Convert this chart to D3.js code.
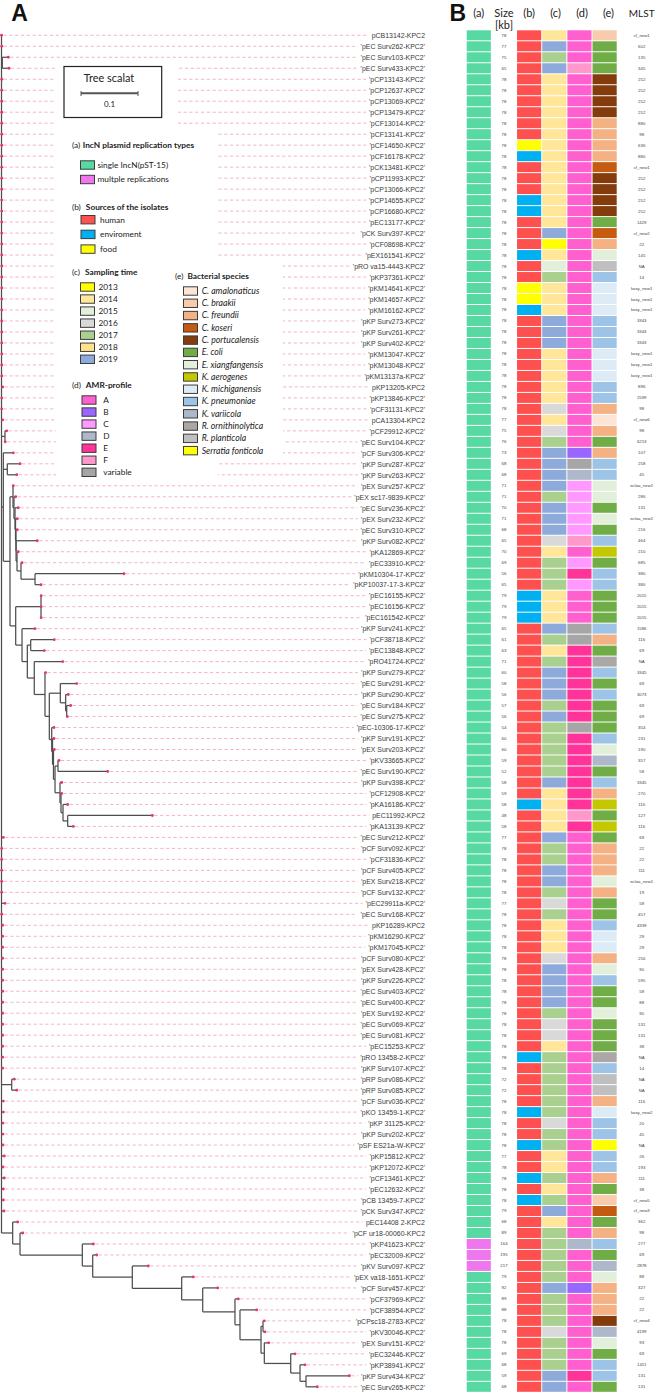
<!DOCTYPE html>
<html><head><meta charset="utf-8">
<script src="https://cdn.jsdelivr.net/npm/d3@7"></script>
<style>body{margin:0;background:#fff} svg{display:block}</style>
</head><body>
<svg id="chart" width="668" height="1393"></svg>
<script>
// ---------------- DATA ----------------
const plasmids = ["pCB13142-KPC2","'pEC Surv262-KPC2'","'pEC Surv103-KPC2'","'pEC Surv433-KPC2'","'pCP13143-KPC2'","'pCP12637-KPC2'","'pCP13069-KPC2'","'pCP13479-KPC2'","'pCF13014-KPC2'","'pCF13141-KPC2'",
"'pCF14650-KPC2'","'pCF16178-KPC2'","'pCK13481-KPC2'","'pCP11993-KPC2'","'pCP13066-KPC2'","'pCP14655-KPC2'","'pCP16680-KPC2'","'pEC13177-KPC2'","'pCK Surv397-KPC2'","'pCF08698-KPC2'",
"'pEX161541-KPC2'","'pRO va15-4443-KPC2'","'pKP37361-KPC2'","'pKM14641-KPC2'","'pKM14657-KPC2'","'pKM16162-KPC2'","'pKP Surv273-KPC2'","'pKP Surv261-KPC2'","'pKP Surv402-KPC2'","'pKM13047-KPC2'",
"'pKM13048-KPC2'","'pKM13137a-KPC2'","pKP13205-KPC2","'pKP13846-KPC2'","'pCF31131-KPC2'","pCA13304-KPC2","'pCF29912-KPC2'","'pEC Surv104-KPC2'","'pCF Surv306-KPC2'","'pKP Surv287-KPC2'",
"'pKP Surv263-KPC2'","'pEX Surv257-KPC2'","'pEX sc17-9839-KPC2'","'pEC Surv236-KPC2'","'pEX Surv232-KPC2'","'pEC Surv310-KPC2'","'pKP Surv082-KPC2'","'pKA12869-KPC2'","'pEC33910-KPC2'","'pKM10304-17-KPC2'",
"'pKP10037-17-3-KPC2'","'pEC16155-KPC2'","'pEC16156-KPC2'","'pEC161542-KPC2'","'pKP Surv241-KPC2'","'pCF38718-KPC2'","'pEC13848-KPC2'","'pRO41724-KPC2'","'pKP Surv279-KPC2'","'pEC Surv291-KPC2'",
"'pKP Surv290-KPC2'","'pEC Surv184-KPC2'","'pEC Surv275-KPC2'","'pEC-10306-17-KPC2'","'pKP Surv191-KPC2'","'pEX Surv203-KPC2'","'pKV33665-KPC2'","'pEC Surv190-KPC2'","'pKP Surv398-KPC2'","'pCF12908-KPC2'",
"'pKA16186-KPC2'","pEC11992-KPC2","'pKA13139-KPC2'","'pEC Surv212-KPC2'","'pCF Surv092-KPC2'","'pCF31836-KPC2'","'pCF Surv405-KPC2'","'pEX Surv218-KPC2'","'pCF Surv132-KPC2'","'pEC29911a-KPC2'",
"'pEC Surv168-KPC2'","pKP16289-KPC2","'pKM16290-KPC2'","'pKM17045-KPC2'","'pCF Surv080-KPC2'","'pEX Surv428-KPC2'","'pKP Surv226-KPC2'","'pEC Surv403-KPC2'","'pEC Surv400-KPC2'","'pEX Surv192-KPC2'",
"'pEC Surv069-KPC2'","'pEC Surv081-KPC2'","'pEC15253-KPC2'","'pRO 13458-2-KPC2'","'pKP Surv107-KPC2'","'pRP Surv086-KPC2'","'pRP Surv085-KPC2'","'pCF Surv036-KPC2'","'pKO 13459-1-KPC2'","'pKP 31125-KPC2'",
"'pKP Surv202-KPC2'","'pSF ES21a-W-KPC2'","'pKP15812-KPC2'","'pKP12072-KPC2'","'pCF13461-KPC2'","'pEC12632-KPC2'","'pCB 13459-7-KPC2'","'pCK Surv347-KPC2'","pEC14408 2-KPC2","'pCF ur18-00060-KPC2",
"'pKP41623-KPC2'","'pEC32009-KPC2'","'pKV Surv097-KPC2'","'pEX va18-1651-KPC2'","'pCF Surv457-KPC2'","'pCF37969-KPC2'","'pCF38954-KPC2'","'pCPsc18-2783-KPC2'","'pKV30046-KPC2'","'pEX Surv151-KPC2'",
"'pEC32446-KPC2'","'pKP38941-KPC2'","'pKP Surv434-KPC2'","'pEC Surv265-KPC2'"];

const sizeKb = [78,77,75,65,78,78,78,78,78,78, 78,78,78,78,78,78,78,78,78,78, 78,78,78,78,78,78,78,78,78,78,
78,78,78,78,78,77,75,76,73,68, 68,71,71,70,71,68,65,70,69,56, 65,79,79,79,65,61,63,71,60,58,
56,57,56,54,60,60,59,52,58,59, 58,48,58,77,78,78,78,78,78,77, 78,78,78,78,78,78,78,78,78,78,
78,78,78,78,78,72,72,78,78,78, 78,78,77,78,78,78,78,79,68,89, 164,195,217,79,92,89,88,78,78,78, 69,68,59,68];

// (a) replication type: S = single IncN(pST-15), M = multiple
const repType = ["S","S","S","S","S","S","S","S","S","S", "S","S","S","S","S","S","S","S","S","S", "S","S","S","S","S","S","S","S","S","S",
"S","S","S","S","S","S","S","S","S","S", "S","S","S","S","S","S","S","S","S","S", "S","S","S","S","S","S","S","S","S","S",
"S","S","S","S","S","S","S","S","S","S", "S","S","S","S","S","S","S","S","S","S", "S","S","S","S","S","S","S","S","S","S",
"S","S","S","S","S","S","S","S","S","S", "S","S","S","S","S","S","S","S","S","S", "M","M","M","S","S","S","S","S","S","S", "S","S","S","S"];

// (b) source: H human, E environment, F food
const source = ["H","H","H","H","H","H","H","H","H","H", "F","E","H","H","H","E","E","H","H","H", "E","H","H","F","F","E","H","H","H","H",
"H","H","H","H","H","H","H","H","H","H", "H","H","H","H","H","H","H","H","H","H", "H","E","E","E","H","H","H","H","H","H",
"H","H","H","H","H","H","H","H","H","H", "E","H","H","H","H","H","H","H","H","H", "H","H","H","H","H","H","H","H","H","H",
"H","H","H","E","H","H","H","H","E","H", "H","E","H","H","E","H","E","H","H","H", "H","H","H","H","H","H","H","H","H","H", "H","H","H","H"];

// (c) sampling year
const year = [2014,2019,2017,2019,2014,2014,2014,2014,2014,2014, 2014,2014,2014,2014,2014,2014,2014,2014,2019,2013,
2014,2015,2017,2014,2014,2014,2019,2019,2019,2014, 2014,2014,2014,2014,2016,2014,2016,2017,2019,2019,
2019,2019,2017,2019,2019,2019,2016,2014,2017,2017, 2017,2014,2014,2014,2019,2017,2014,2017,2019,2019,
2019,2017,2019,2017,2017,2017,2017,2017,2019,2014, 2014,2014,2014,2019,2017,2017,2019,2019,2017,2016,
2017,2014,2014,2014,2016,2019,2019,2019,2019,2017, 2016,2016,2014,2017,2017,2017,2017,2017,2017,2016,
2017,2017,2014,2014,2017,2014,2017,2019,2014,2017, 2017,2017,2017,2017,2019,2017,2017,2017,2016,2017, 2017,2017,2019,2019];

// (d) AMR profile
const amr = ["A","A","A","F","A","A","A","A","A","A", "A","A","A","A","A","A","A","A","A","A", "A","A","A","A","A","A","A","A","A","A",
"A","A","A","A","A","A","A","A","B","V", "D","C","C","C","C","C","F","A","C","E", "C","A","A","A","V","V","E","E","E","E",
"E","E","E","V","E","E","E","E","E","E", "E","F","E","A","A","A","A","A","A","A", "A","A","A","A","A","A","A","A","A","A",
"A","A","A","A","A","A","A","A","A","A", "A","A","A","A","A","A","A","A","A","A", "D","A","A","A","B","A","A","A","A","A", "A","A","E","A"];

// (e) bacterial species
const species = ["CB","EC","EC","EC","CP","CP","CP","CP","CF","CF", "CF","CF","CK","CP","CP","CP","CP","EC","CK","CF",
"EX","RP","KP","KM","KM","KM","KP","KP","KP","KM", "KM","KM","KP","KP","CF","CA","CF","EC","CF","KP",
"KP","EX","EX","EC","EX","EC","KP","KA","EC","KP", "KP","EC","EC","EC","KP","CF","EC","RO","KP","EC",
"KP","EC","EC","EC","KP","EX","KV","EC","KP","CF", "KA","EC","KA","EC","CF","CF","CF","EX","CF","EC",
"EC","KP","KM","KM","CF","EX","KP","EC","EC","EX", "EC","EC","EC","RO","KP","RP","RP","CF","KM","KP",
"KP","SF","KP","KP","CF","EC","CB","CK","EC","CF", "KP","EC","KV","EX","CF","CF","CF","CP","KV","EX", "EC","KP","KP","EC"];

const mlst = ["cf_new1","602","135","345","252","252","252","252","880","98", "636","880","cf_new1","252","252","252","252","1429","cf_new2","22",
"145","NA","14","koxy_new1","koxy_new1","koxy_new1","3343","3343","3343","koxy_new1", "koxy_new1","koxy_new1","896","2599","98","cf_new6","98","6213","107","258",
"45","ecloa_new1","286","131","ecloa_new1","216","464","210","685","380", "380","2015","2015","2015","1586","116","69","NA","3345","69",
"3073","69","69","354","231","190","357","58","3345","270", "116","127","116","69","22","22","111","ecloa_new1","19","58",
"457","4339","29","29","256","90","595","58","88","90", "131","131","38","NA","14","NA","NA","116","koxy_new2","20",
"45","NA","26","193","111","38","cf_new5","cf_new3","362","98", "277","69","2878","88","327","22","22","cf_new4","4199","93", "69","1411","131","131"];

// Phylogeny (Newick; numbers after ':' are divergence from the root, leaf names = row number)
const cladeE1 = "(42:0.0207,(43:0.0249,(44:0.0295,(45:0.0277,(46:0.0277,(47:0.0628,(48:0.0295,(49:0.036,(50:0.2149,51:0.0693):0.0588):0.0342):0.0272):0.0256):0.0254):0.0246):0.0237):0.0219):0.0202";
const cladeN = "(60:0.1319,(61:0.1172,(62:0.1214,63:0.1154):0.1144):0.1126):0.1032";
const cladeQ = "(64:0.0921,(65:0.0921,(66:0.0926,((67:0.1009,68:0.1863):0.0991,(69:0.1056,(70:0.1056,(71:0.1161,(72:0.2646,73:0.126):0.1161):0.1079):0.1044):0.1026):0.0939):0.0912):0.0895):0.0881";
const cladeL = "(59:0.0775,(" + cladeN + "," + cladeQ + "):0.0839):0.0763";
const cladeE2 = "((52:0.0696,53:0.0696,54:0.0696):0.0693,(55:0.0588,((56:0.0926,57:0.0751):0.0512,(58:0.1074," + cladeL + "):0.0575):0.0453):0.036):0.0249";
const cladeB = "(39:0.0207,(40:0.0325,41:0.0267):0.0102,(" + cladeE1 + "," + cladeE2 + "):0.0149):0.0032";
const cladeS = "(109:0.0284,(110:0.0372,(111:0.1611,(112:0.167,(113:0.2575,(114:0.3365,(115:0.3793,(116:0.4154,(117:0.4477,((118:0.4611,119:0.4623):0.4588,(120:0.4688,(121:0.5149,(122:0.5325,(123:0.6102,124:0.554):0.5342):0.5237):0.5074):0.4611):0.4553):0.4184):0.4096):0.353):0.3161):0.2295):0.16):0.1418):0.0325):0.0196";
const treeNewick = "(1:0,2:0.0005,(3:0.0119,4:0.0132):0.0014,5:0.0005,6:0.0005,7:0.0005,8:0.0005,9:0.0005,10:0.0005,11:0.0005,12:0.0005,13:0.0005,14:0.0005,15:0.0005,16:0.0005,17:0.0005,18:0.0005,19:0.0005,20:0.0005,21:0.0005,22:0.0005,23:0.0005,24:0.0005,25:0.0005,26:0.0005,27:0.0005,28:0.0005,29:0.0005,30:0.0005,31:0.0005,32:0.0005,33:0.0021,34:0.0005,35:0.0005,36:0.0021,(37:0.0091,38:0.0065):0.0061,"
 + cladeB + ",74:0.0032,75:0.0004,76:0.0004,77:0.0004,78:0.0004,79:0.0004,80:0.0061,81:0.0004,82:0.002,83:0.002,84:0.002,85:0.002,86:0.002,87:0.002,88:0.002,89:0.002,90:0.002,91:0.002,92:0.002,93:0.002,94:0.002,95:0.002,(96:0.0225,97:0.0267):0.0179,98:0.0032,99:0.0032,100:0.0026,101:0.0026,102:0.0026,103:0.0049,104:0.0026,105:0.0049,106:0.0032,107:0.0032,108:0.0044,"
 + cladeS + ");";

// Legend categories
const repCodes = ["S","M"], repLabels = ["single IncN(pST-15)","multple replications"];
const srcCodes = ["H","E","F"], srcLabels = ["human","enviroment","food"];
const yearCodes = [2013,2014,2015,2016,2017,2018,2019];
const amrCodes = ["A","B","C","D","E","F","V"], amrLabels = ["A","B","C","D","E","F","variable"];
const spCodes = ["CA","CB","CF","CK","CP","EC","EX","KA","KM","KP","KV","RO","RP","SF"];
const spLabels = ["C. amalonaticus","C. braakii","C. freundii","C. koseri","C. portucalensis","E. coli","E. xiangfangensis","K. aerogenes","K. michiganensis","K. pneumoniae","K. variicola","R. ornithinolytica","R. planticola","Serratia fonticola"];
const columnHeads = ["(a)","Size","(b)","(c)","(d)","(e)"];

// ---------------- COLOURS ----------------
const repColor = d3.scaleOrdinal(repCodes, ["#58d8a2","#ee77ee"]);
const srcColor = d3.scaleOrdinal(srcCodes, ["#ff5050","#00b0f0","#ffff00"]);
const yearColor = d3.scaleOrdinal(yearCodes, ["#ffff00","#ffe699","#e2efda","#d9d9d9","#a9d08e","#ffe08c","#8eaadb"]);
const amrColor = d3.scaleOrdinal(amrCodes, ["#ff5fcf","#9966ff","#ff99ff","#adb9ca","#ff3399","#ff99cc","#a6a6a6"]);
const spColor = d3.scaleOrdinal(spCodes, ["#fce4d6","#f8cbad","#f4b183","#c55a11","#843c0c","#70ad47","#e2efda","#c4c800","#ddebf7","#9dc3e6","#adb9ca","#aba7a7","#bfbfbf","#ffff00"]);

// ---------------- LAYOUT ----------------
const svg = d3.select("#chart");
const N = plasmids.length;
const y = d3.scaleBand().domain(d3.range(N)).range([30.3, 1391.8]).paddingInner(0.09);
const rowC = i => y(i) + y.bandwidth() / 2;
const xTree = d3.scaleLinear().domain([0, 0.1]).range([1.5, 58.5]);
const xCol = d3.scaleBand().domain(["a","size","b","c","d","e"]).range([466.7, 616.7]).paddingInner(0.04);
const labelRight = 425, mlstX = 641.7;
const labelFont = "'Liberation Sans', Arial, sans-serif";
const legFont = "Lato, 'Open Sans', sans-serif";

function parseNewick(s) {
  s = s.replace(/\s+/g, "").replace(/;$/, "");
  let i = 0;
  function node() {
    const n = { children: [] };
    if (s[i] === "(") {
      i++;
      n.children.push(node());
      while (s[i] === ",") { i++; n.children.push(node()); }
      i++;
    }
    let name = "";
    while (i < s.length && !":,()".includes(s[i])) name += s[i++];
    n.name = name;
    if (s[i] === ":") {
      i++;
      let num = "";
      while (i < s.length && !",()".includes(s[i])) num += s[i++];
      n.dist = +num;
    } else n.dist = 0;
    return n;
  }
  return node();
}

const root = d3.hierarchy(parseNewick(treeNewick), d => d.children.length ? d.children : null);
root.eachAfter(n => {
  n.px = xTree(n.data.dist);
  if (!n.children) { n.row = +n.data.name - 1; n.py = rowC(n.row); }
  else n.py = (n.children[0].py + n.children[n.children.length - 1].py) / 2;
});
const leaves = root.leaves();
const tipX = new Array(N);
leaves.forEach(l => tipX[l.row] = l.px);

// ---------------- LABELS (measured first) ----------------
const gLab = svg.append("g");
const labels = gLab.selectAll("text").data(plasmids).join("text")
  .attr("transform", (d, i) => `translate(${labelRight},${rowC(i) + 2.8}) scale(0.87,1)`)
  .attr("text-anchor", "end")
  .attr("font-family", labelFont).attr("font-size", 8).attr("fill", "#3a3a3a")
  .text(d => d);
const labStart = [];
labels.each(function(d, i) { labStart[i] = labelRight - this.getComputedTextLength() * 0.87; });

// ---------------- DASHED LEADERS ----------------
const gDash = svg.insert("g", ":first-child");
gDash.selectAll("line").data(d3.range(N)).join("line")
  .attr("x1", i => tipX[i] + 2).attr("x2", i => labStart[i] - 3)
  .attr("y1", i => rowC(i)).attr("y2", i => rowC(i))
  .attr("stroke", "#f6b3c7").attr("stroke-width", 1).attr("stroke-dasharray", "3.2,2.6");

// white background behind the legends
const gCover = svg.append("g");
[[56, 63, 122, 68], [56, 130, 162, 352], [217, 262, 66, 197]].forEach(r =>
  gCover.append("rect").attr("x", r[0]).attr("y", r[1]).attr("width", r[2]).attr("height", r[3]).attr("fill", "#fff"));

// ---------------- TREE ----------------
const gTree = svg.append("g").attr("fill", "none").attr("stroke", "#4e4e4e").attr("stroke-width", 1.25);
root.descendants().filter(n => n.children).forEach(n => {
  gTree.append("line").attr("x1", n.px).attr("x2", n.px)
    .attr("y1", n.children[0].py).attr("y2", n.children[n.children.length - 1].py);
});
root.descendants().filter(n => n.parent).forEach(n => {
  gTree.append("line").attr("x1", n.parent.px).attr("x2", n.px).attr("y1", n.py).attr("y2", n.py);
});
svg.append("g").selectAll("circle").data(leaves).join("circle")
  .attr("cx", d => d.px).attr("cy", d => d.py).attr("r", 1.45).attr("fill", "#e2386a");

// ---------------- HEATMAP ----------------
const gHeat = svg.append("g");
const colDefs = [["a", repType, repColor], ["b", source, srcColor], ["c", year, yearColor], ["d", amr, amrColor], ["e", species, spColor]];
colDefs.forEach(([key, arr, col]) => {
  gHeat.append("g").selectAll("rect").data(arr).join("rect")
    .attr("x", xCol(key)).attr("width", xCol.bandwidth())
    .attr("y", (d, i) => y(i)).attr("height", y.bandwidth())
    .attr("fill", d => col(d));
});
gHeat.append("g").selectAll("text").data(sizeKb).join("text")
  .attr("x", xCol("size") + xCol.bandwidth() / 2).attr("y", (d, i) => rowC(i) + 1.5)
  .attr("text-anchor", "middle").attr("font-family", labelFont).attr("font-size", 4.3).attr("fill", "#444")
  .text(d => d);
gHeat.append("g").selectAll("text").data(mlst).join("text")
  .attr("x", mlstX).attr("y", (d, i) => rowC(i) + 1.5)
  .attr("text-anchor", "middle").attr("font-family", labelFont).attr("font-size", 4.3).attr("fill", "#444")
  .text(d => d);

// headers
const gHead = svg.append("g").attr("font-family", legFont).attr("font-size", 11).attr("fill", "#222");
["a","size","b","c","d","e"].forEach((k, j) => {
  gHead.append("text").attr("x", xCol(k) + xCol.bandwidth() / 2 + (j > 2 ? (j - 2) * 1.3 : 0)).attr("y", 17)
    .attr("text-anchor", "middle").text(columnHeads[j]);
});
gHead.append("text").attr("x", xCol("size") + xCol.bandwidth() / 2).attr("y", 28.5).attr("text-anchor", "middle").text("[kb]");
gHead.append("text").attr("x", mlstX).attr("y", 17).attr("text-anchor", "middle").attr("font-size", 10).text("MLST");
svg.append("text").attr("x", 449.5).attr("y", 20.8).attr("font-family", labelFont).attr("font-weight", "bold")
  .attr("font-size", 23).attr("fill", "#111").text("B");
svg.append("text").attr("x", 11.2).attr("y", 20.8).attr("font-family", labelFont).attr("font-weight", "bold")
  .attr("font-size", 23).attr("fill", "#111").text("A");

// ---------------- LEGENDS ----------------
const gLeg = svg.append("g").attr("font-family", legFont).attr("fill", "#222");
// tree scale
gLeg.append("rect").attr("x", 64).attr("y", 66.5).attr("width", 97.7).attr("height", 51)
  .attr("fill", "#fff").attr("stroke", "#222").attr("stroke-width", 1.2);
gLeg.append("text").attr("x", 109).attr("y", 82).attr("text-anchor", "middle").attr("font-size", 10.9).text("Tree scalat");
const sb0 = 81, sb1 = sb0 + (xTree(0.1) - xTree(0));
gLeg.append("line").attr("x1", sb0).attr("x2", sb1).attr("y1", 93.3).attr("y2", 93.3).attr("stroke", "#555").attr("stroke-width", 2);
[sb0, sb1].forEach(x => gLeg.append("line").attr("x1", x).attr("x2", x).attr("y1", 91).attr("y2", 96).attr("stroke", "#555").attr("stroke-width", 1));
gLeg.append("text").attr("x", 109.5).attr("y", 107).attr("text-anchor", "middle").attr("font-size", 8).text("0.1");

function title(x, yy, pre, txt, gap) {
  const t = gLeg.append("text").attr("x", x).attr("y", yy).attr("font-size", 8.3);
  t.append("tspan").text(pre);
  t.append("tspan").attr("dx", gap).attr("font-weight", "bold").text(txt);
}
function items(codes, labs, col, sx, tx, y0, step, italic) {
  codes.forEach((c, i) => {
    const yy = y0 + i * step;
    gLeg.append("rect").attr("x", sx).attr("y", yy - 4.2).attr("width", 14).attr("height", 8.4)
      .attr("fill", col(c)).attr("stroke", "#3c3c3c").attr("stroke-width", 1);
    gLeg.append("text").attr("x", tx).attr("y", yy + 2.9).attr("font-size", italic ? 8.7 : 8.3)
      .attr("font-style", italic ? "italic" : null).text(labs[i]);
  });
}
title(72, 148, "(a)", "IncN plasmid replication types", 2.5);
items(repCodes, repLabels, repColor, 80.5, 97.5, 165, 14.5, false);
title(72, 209.5, "(b)", "Sources of the isolates", 5);
items(srcCodes, srcLabels, srcColor, 81, 100, 219.7, 14.7, false);
title(72, 274.5, "(c)", "Sampling time", 5);
items(yearCodes, yearCodes.map(String), yearColor, 80.5, 98.5, 287, 12.05, false);
title(72, 388, "(d)", "AMR-profile", 5);
items(amrCodes, amrLabels, amrColor, 82, 103.3, 400, 12.05, false);
title(175, 279, "(e)", "Bacterial species", 4);
items(spCodes, spLabels, spColor, 183.5, 201.7, 291, 12.28, true);
</script>
</body></html>
